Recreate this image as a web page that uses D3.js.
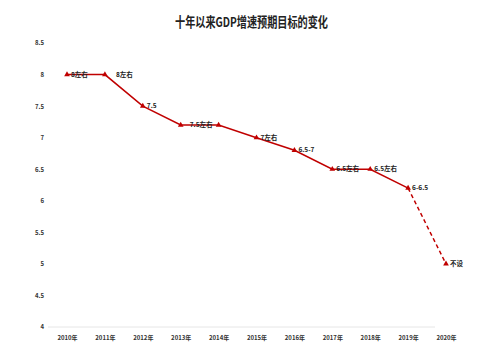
<!DOCTYPE html>
<html><head><meta charset="utf-8">
<script src="https://cdn.jsdelivr.net/npm/d3@7"></script>
<style>body{margin:0;background:#fff;}svg{display:block;}</style>
</head><body>
<svg id="c" width="480" height="358"></svg>
<script>
const years = ["2010年","2011年","2012年","2013年","2014年","2015年","2016年","2017年","2018年","2019年","2020年"];
const values = [8, 8, 7.5, 7.2, 7.2, 7, 6.8, 6.5, 6.5, 6.2, 5];
const labels = ["8左右","8左右","7.5","7.5左右","","7左右","6.5-7","6.5左右","6.5左右","6-6.5","不设"];
const yTicks = [4, 4.5, 5, 5.5, 6, 6.5, 7, 7.5, 8, 8.5];
const title = "十年以来GDP增速预期目标的变化";

const svg = d3.select("#c");
const font = "'Noto Sans CJK SC','Noto Sans',sans-serif";
const x = d3.scalePoint().domain(years).range([67, 446]);
const y = d3.scaleLinear().domain([4, 8.5]).range([327, 43]);
const red = "#c00000";

svg.append("text").attr("x", 175).attr("y", 27)
  .attr("font-family", font).attr("font-weight", "bold").attr("font-size", 13.5)
  .attr("textLength", 153).attr("lengthAdjust", "spacingAndGlyphs")
  .attr("fill", "#222").text(title);

// y axis labels
const ya = svg.append("g").attr("transform", "translate(44,0)")
  .call(d3.axisLeft(y).tickValues(yTicks).tickSize(0).tickPadding(0).tickFormat(d3.format("")));
ya.select(".domain").remove();
ya.selectAll("text").attr("font-family", font).attr("font-size", 6).attr("font-weight", "bold").attr("fill", "#333");

// x axis
const xa = svg.append("g").attr("transform", "translate(0,327)")
  .call(d3.axisBottom(x).tickSize(0).tickPadding(9));
xa.select(".domain").remove();
xa.selectAll("text").attr("font-family", font).attr("font-size", 6).attr("font-weight", "bold").attr("fill", "#333");
svg.append("line").attr("x1", 48).attr("x2", 435).attr("y1", 327).attr("y2", 327)
  .attr("stroke", "#e6e6e6").attr("stroke-width", 1);

const pts = years.map((d, i) => ({year: d, v: values[i], label: labels[i], i}));
const line = d3.line().x(d => x(d.year)).y(d => y(d.v));
svg.append("path").datum(pts.slice(0, 10)).attr("d", line)
  .attr("fill", "none").attr("stroke", red).attr("stroke-width", 1.5);
svg.append("path").datum(pts.slice(9)).attr("d", line)
  .attr("fill", "none").attr("stroke", red).attr("stroke-width", 1.5).attr("stroke-dasharray", "4,3");

svg.selectAll(".m").data(pts).enter().append("path")
  .attr("transform", d => `translate(${x(d.year)},${y(d.v)})`)
  .attr("d", d3.symbol(d3.symbolTriangle, 14)).attr("fill", red);

svg.selectAll(".lb").data(pts).enter().append("text")
  .attr("x", d => x(d.year) + (d.i === 1 ? 11 : d.i === 3 ? 9 : 4))
  .attr("y", d => y(d.v) + 2)
  .attr("font-family", font).attr("font-size", 6.5).attr("font-weight", "bold").attr("fill", "#222")
  .text(d => d.label);
</script>
</body></html>
